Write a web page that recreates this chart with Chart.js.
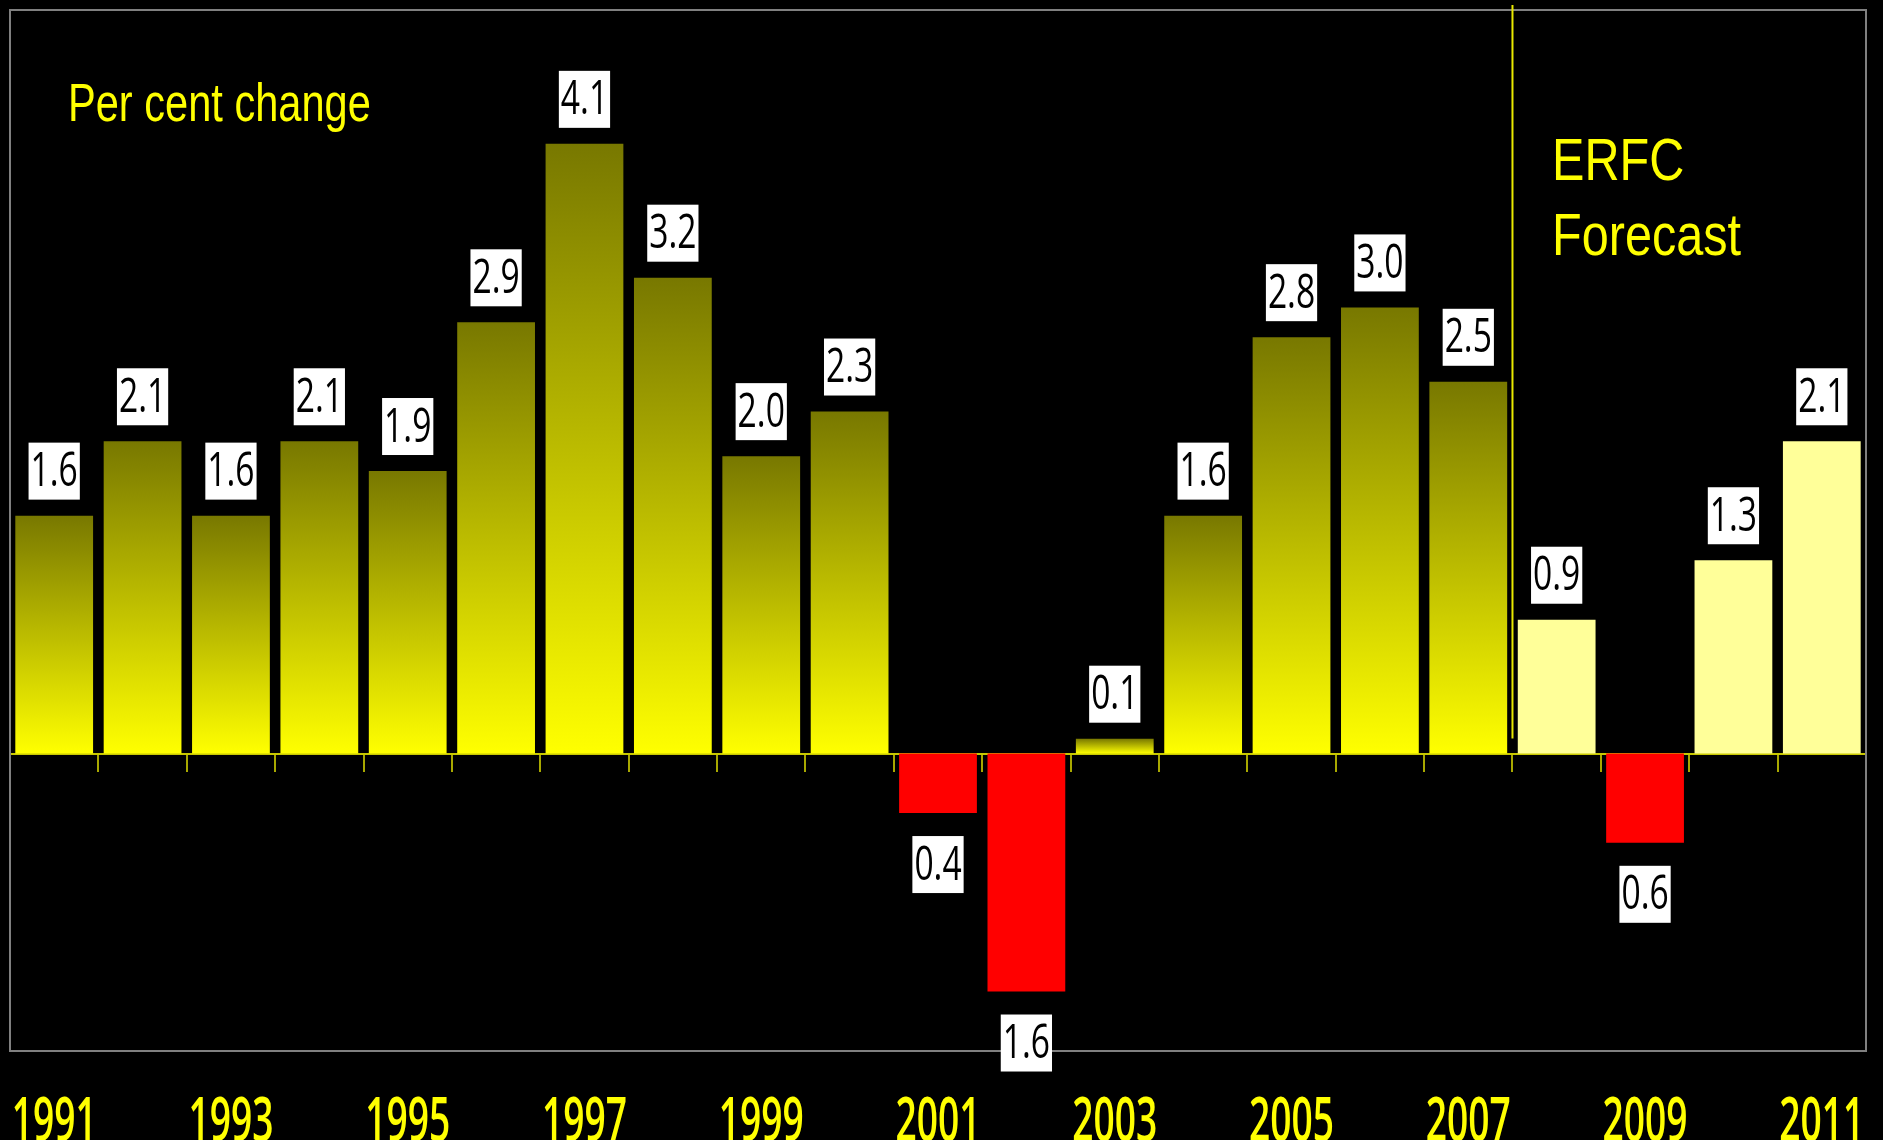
<!DOCTYPE html>
<html>
<head>
<meta charset="utf-8">
<title>Per cent change</title>
<script src="https://cdn.jsdelivr.net/npm/chart.js@4.4.1/dist/chart.umd.min.js"></script>
<style>
    html, body { margin: 0; padding: 0; background: #000; }
    #wrap { width: 1883px; height: 1140px; position: relative; }
</style>
</head>
<body>
<div id="wrap"><canvas id="growthChart"></canvas></div>
<script>
// datos
const years = ['1991', '1992', '1993', '1994', '1995', '1996', '1997', '1998', '1999', '2000',
    '2001', '2002', '2003', '2004', '2005', '2006', '2007', '2008', '2009', '2010', '2011'];
const growth = [1.6, 2.1, 1.6, 2.1, 1.9, 2.9, 4.1, 3.2, 2.0, 2.3,
    -0.4, -1.6, 0.1, 1.6, 2.8, 3.0, 2.5, 0.9, -0.6, 1.3, 2.1];
const forecastYears = ['2008', '2009', '2010', '2011'];
const yearLabels = ['1991', '1993', '1995', '1997', '1999', '2001', '2003', '2005', '2007', '2009', '2011'];
const yMin = -2;
const yMax = 5;

const drawText = (ctx, text, x, y, font, sx, align) => {
    ctx.save();
    ctx.translate(x, y);
    ctx.scale(sx, 1);
    ctx.font = font;
    ctx.textAlign = align || 'left';
    ctx.textBaseline = 'alphabetic';
    ctx.fillText(text, 0, 0);
    ctx.restore();
};

const barColor = (context) => {
    const i = context.dataIndex;
    const v = growth[i];
    if (v < 0) return '#ff0000';
    if (forecastYears.includes(years[i])) return '#ffff99';
    const chart = context.chart;
    const yScale = chart.scales.y;
    if (!chart.chartArea || !yScale) return '#c0c000';
    const top = yScale.getPixelForValue(v);
    const base = yScale.getPixelForValue(0);
    const g = chart.ctx.createLinearGradient(0, top, 0, base);
    g.addColorStop(0, '#787800');
    g.addColorStop(1, '#ffff00');
    return g;
};

// marco gris, linea de pronostico y textos
const decorations = {
    id: 'decorations',
    beforeDatasetsDraw(chart) {
        const {ctx, chartArea: a} = chart;
        ctx.save();
        ctx.strokeStyle = '#808080';
        ctx.lineWidth = 2;
        ctx.strokeRect(a.left, a.top, a.right - a.left, a.bottom - a.top);
        ctx.restore();
    },
    afterDatasetsDraw(chart) {
        const {ctx, chartArea: a, scales} = chart;
        const xs = scales.x, ys = scales.y;
        const zero = ys.getPixelForValue(0);

        // linea vertical del pronostico
        const fi = years.indexOf(forecastYears[0]);
        const lx = (xs.getPixelForValue(fi - 1) + xs.getPixelForValue(fi)) / 2;
        ctx.save();
        ctx.strokeStyle = '#e8e800';
        ctx.lineWidth = 2;
        ctx.beginPath();
        ctx.moveTo(lx, a.top - 5);
        ctx.lineTo(lx, zero - 15);
        ctx.stroke();

        // etiquetas de valores
        const meta = chart.getDatasetMeta(0);
        meta.data.forEach((bar, i) => {
            const v = growth[i];
            const txt = Math.abs(v).toFixed(1);
            ctx.font = '48px "Open Sans", sans-serif';
            const sx = 0.7;
            const w = ctx.measureText(txt).width * sx + 4;
            const h = 57;
            const top = v >= 0 ? bar.y - 16 - h : bar.y + 23;
            ctx.fillStyle = '#ffffff';
            ctx.fillRect(bar.x - w / 2, top, w, h);
            ctx.save();
            ctx.translate(bar.x, top + h / 2 + 15);
            ctx.scale(sx, 1);
            ctx.fillStyle = '#000000';
            ctx.textAlign = 'center';
            ctx.textBaseline = 'alphabetic';
            ctx.fillText(txt, 0, 0);
            ctx.restore();
        });

        ctx.fillStyle = '#ffff00';
        // años bajo el marco, en la posicion de la escala x
        yearLabels.forEach((yr) => {
            const px = xs.getPixelForValue(years.indexOf(yr));
            drawText(ctx, yr, px, 1141, '600 62px "Open Sans", sans-serif', 0.6, 'center');
        });
        const sans = '"Liberation Sans", Arial, sans-serif';
        drawText(ctx, 'Per cent change', 68, 121, `54px ${sans}`, 0.77);
        drawText(ctx, 'ERFC', 1552, 180, `60px ${sans}`, 0.81);
        drawText(ctx, 'Forecast', 1552, 255, `60px ${sans}`, 0.81);
        ctx.restore();
    }
};

const renderChart = () => {
    const ctx = document.getElementById('growthChart').getContext('2d');
    new Chart(ctx, {
        type: 'bar',
        data: {
            labels: years,
            datasets: [{
                data: growth,
                backgroundColor: barColor,
                borderWidth: 0,
                barPercentage: 0.88,
                categoryPercentage: 1.0
            }]
        },
        options: {
            responsive: true,
            maintainAspectRatio: false,
            animation: false,
            layout: {padding: {left: 10, right: 17, top: 10, bottom: 89}},
            plugins: {legend: {display: false}, tooltip: {enabled: false}},
            scales: {
                x: {
                    type: 'category',
                    position: {y: 0},
                    offset: true,
                    grid: {
                        offset: true,
                        drawOnChartArea: false,
                        tickLength: 17,
                        color: '#a8a800',
                        lineWidth: 2
                    },
                    border: {color: '#c8c800', width: 2},
                    ticks: {display: false}
                },
                y: {
                    display: false,
                    min: yMin,
                    max: yMax
                }
            }
        },
        plugins: [decorations]
    });
};

document.addEventListener('DOMContentLoaded', renderChart);
</script>
</body>
</html>
